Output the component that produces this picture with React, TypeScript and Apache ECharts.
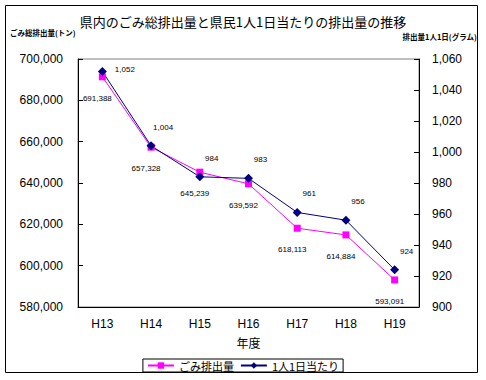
import React, { useEffect, useRef } from "react";
import * as echarts from "echarts";

const categories = ["H13", "H14", "H15", "H16", "H17", "H18", "H19"];
const wasteTotal = [691388, 657328, 645239, 639592, 618113, 614884, 593091];
const perCapita = [1052, 1004, 984, 983, 961, 956, 924];
const seriesNames = ["ごみ排出量", "1人1日当たり"];
const titleText = "県内のごみ総排出量と県民1人1日当たりの排出量の推移";
const leftAxisName = "ごみ総排出量(トン)";
const rightAxisName = "排出量1人1日(グラム)";
const xAxisName = "年度";

const FONT = "'Noto Sans CJK JP', sans-serif";
const NUMFONT = "'Liberation Sans', Arial, sans-serif";
const fmt = (v: number) => v.toLocaleString("en-US");

export default function App() {
  const ref = useRef<HTMLDivElement>(null);
  useEffect(() => {
    document.body.style.margin = "0";
    const chart = echarts.init(ref.current!, undefined, { renderer: "svg" });
    chart.setOption({
      animation: false,
      backgroundColor: "#ffffff",
      textStyle: { fontFamily: FONT },
      title: {
        text: titleText,
        left: "center",
        top: 10,
        textStyle: { fontSize: 13, fontWeight: "normal", color: "#000", fontFamily: FONT },
      },
      graphic: [
        {
          type: "rect",
          shape: { x: 5.5, y: 5.5, width: 472, height: 367 },
          style: { fill: "none", stroke: "#000", lineWidth: 1 },
          silent: true,
        },
        {
          type: "text",
          left: 10,
          top: 29,
          style: { text: leftAxisName, fontSize: 7.5, fontWeight: "bold", fill: "#000", fontFamily: FONT },
        },
        {
          type: "text",
          right: 9,
          top: 33,
          style: { text: rightAxisName, fontSize: 7.5, fontWeight: "bold", fill: "#000", fontFamily: FONT },
        },
      ],
      legend: {
        data: seriesNames,
        bottom: 8,
        left: "center",
        borderColor: "#000",
        borderWidth: 1,
        padding: [1, 4],
        itemGap: 6,
        itemWidth: 26,
        itemHeight: 8,
        textStyle: { fontSize: 11, color: "#000", fontFamily: FONT },
      },
      grid: { left: 78, right: 67, top: 59, bottom: 73, show: true, borderColor: "#808080", borderWidth: 1 },
      xAxis: {
        type: "category",
        data: categories,
        boundaryGap: true,
        name: xAxisName,
        nameLocation: "middle",
        nameGap: 29,
        nameTextStyle: { fontSize: 12, color: "#000", fontFamily: FONT },
        axisLine: { lineStyle: { color: "#000", width: 1 } },
        axisTick: { inside: true, length: 5, lineStyle: { color: "#000" } },
        axisLabel: { fontSize: 12, color: "#000", margin: 11, fontFamily: NUMFONT },
        splitLine: { show: false },
      },
      yAxis: [
        {
          type: "value",
          min: 580000,
          max: 700000,
          interval: 20000,
          axisLine: { show: true, lineStyle: { color: "#000" } },
          axisTick: { show: true, inside: true, length: 5, lineStyle: { color: "#000" } },
          axisLabel: { fontSize: 12, color: "#000", margin: 15, fontFamily: NUMFONT, formatter: (v: number) => fmt(v) },
          splitLine: { show: false },
        },
        {
          type: "value",
          min: 900,
          max: 1060,
          interval: 20,
          position: "right",
          axisLine: { show: true, lineStyle: { color: "#000" } },
          axisTick: { show: true, inside: true, length: 5, lineStyle: { color: "#000" } },
          axisLabel: { fontSize: 12, color: "#000", margin: 13, fontFamily: NUMFONT, formatter: (v: number) => fmt(v) },
          splitLine: { show: false },
        },
      ],
      series: [
        {
          name: seriesNames[0],
          type: "line",
          yAxisIndex: 0,
          data: wasteTotal,
          symbol: "rect",
          symbolSize: 7,
          lineStyle: { color: "#FF00FF", width: 1 },
          itemStyle: { color: "#FF00FF" },
          label: {
            show: true,
            position: "bottom",
            distance: 14,
            offset: [-5, 0],
            fontSize: 8,
            color: "#000",
            fontFamily: NUMFONT,
            formatter: (p: any) => fmt(p.value),
          },
        },
        {
          name: seriesNames[1],
          type: "line",
          yAxisIndex: 1,
          data: perCapita.map((v, i) =>
            i === 0 ? { value: v, label: { position: "right", distance: 8, offset: [0, -2] } } : v
          ),
          symbol: "diamond",
          symbolSize: 9,
          lineStyle: { color: "#000080", width: 1 },
          itemStyle: { color: "#000080" },
          label: {
            show: true,
            position: "top",
            distance: 7,
            offset: [12, -3],
            fontSize: 8,
            color: "#000",
            fontFamily: NUMFONT,
            formatter: (p: any) => fmt(p.value),
          },
        },
      ],
    });
    return () => chart.dispose();
  }, []);
  return <div ref={ref} style={{ width: 486, height: 380 }} />;
}
